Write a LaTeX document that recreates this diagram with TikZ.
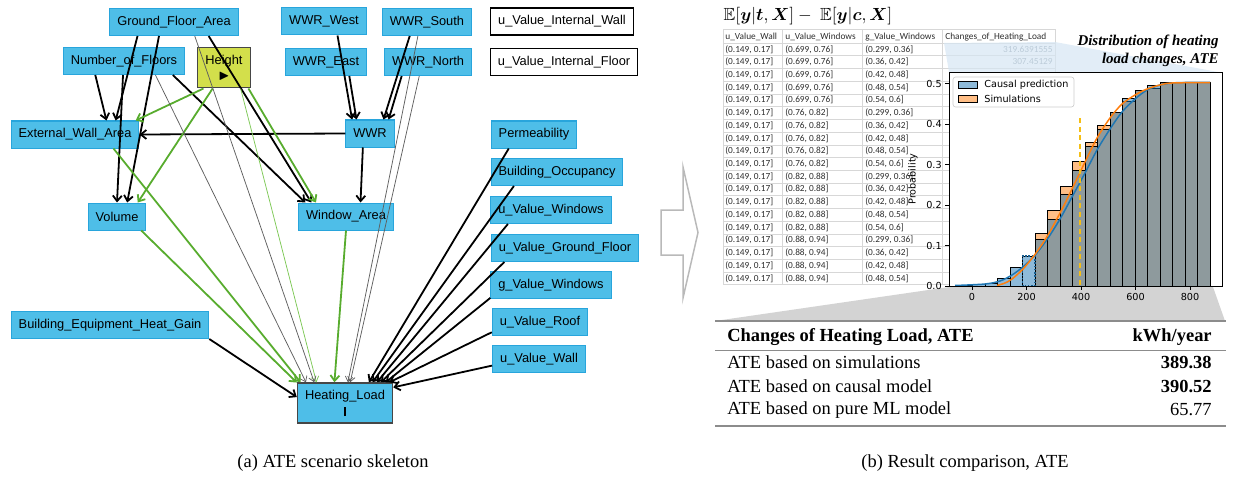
\documentclass[tikz,border=0pt]{standalone}
\usepackage{amsmath,amssymb}
\usepackage{fontspec}
\setmainfont{Liberation Serif}
\newfontfamily\arialfont{Liberation Sans}
\newfontfamily\calibrifont{Carlito}
\newfontfamily\plotfont{DejaVu Sans}
\usetikzlibrary{arrows.meta}

\definecolor{boxblue}{RGB}{78,190,232}
\definecolor{boxline}{RGB}{40,165,220}
\definecolor{treatfill}{RGB}{211,223,75}
\definecolor{darkbox}{RGB}{70,70,70}
\definecolor{edgegreen}{RGB}{88,172,46}
\definecolor{lightedge}{RGB}{125,200,85}
\definecolor{thinedge}{RGB}{95,95,95}
\definecolor{mplblue}{RGB}{31,119,180}
\definecolor{mplorange}{RGB}{255,127,14}
\definecolor{ategold}{RGB}{245,190,20}
\definecolor{wedgeblue}{RGB}{214,230,243}
\definecolor{wedgegray}{RGB}{211,211,211}
\definecolor{gridgray}{RGB}{215,215,215}
\definecolor{tabtext}{RGB}{45,45,45}
\definecolor{fadetext}{RGB}{125,140,155}
\definecolor{rulegray}{RGB}{140,140,140}

\newcommand{\winbin}[1]{\ifcase#1 (0.699, 0.76]\or (0.76, 0.82]\or (0.82, 0.88]\or (0.88, 0.94]\fi}
\newcommand{\gbin}[1]{\ifcase#1 (0.299, 0.36]\or (0.36, 0.42]\or (0.42, 0.48]\or (0.48, 0.54]\or (0.54, 0.6]\fi}

\tikzset{
var/.style={draw=boxline,fill=boxblue,line width=0.2mm,minimum height=5.4mm,inner xsep=1.5mm,inner ysep=0pt,font=\arialfont\fontsize{7.3}{8.5}\selectfont},
treat/.style={var,fill=treatfill,draw=darkbox,minimum height=8mm,align=center},
outcome/.style={var,draw=darkbox,line width=0.3mm,minimum height=8mm,align=center},
idle/.style={var,fill=white,draw=black,line width=0.3mm},
blk/.style={draw=black,line width=0.36mm,-{Straight Barb[length=1.1mm,width=1.8mm]}},
grn/.style={blk,draw=edgegreen},
gry/.style={draw=thinedge,line width=0.15mm,-{Straight Barb[length=1mm,width=1.5mm]}},
lgrn/.style={gry,draw=lightedge},
cell/.style={anchor=west,inner sep=0pt,text=tabtext,font=\calibrifont\fontsize{5.3}{6}\selectfont},
tabgrid/.style={draw=gridgray,line width=0.1mm},
obar/.style={draw=black,line width=0.12mm,fill=mplorange,fill opacity=0.5},
bbar/.style={draw=black,line width=0.12mm,fill=mplblue,fill opacity=0.5},
axlabel/.style={inner sep=0pt,font=\plotfont\fontsize{5.5}{6.5}\selectfont},
restext/.style={inner sep=0pt,font=\fontsize{10.5}{12}\selectfont},
tabrule/.style={draw=rulegray,line width=0.25mm},
capt/.style={font=\fontsize{10.5}{12}\selectfont}
}

\begin{document}
\begin{tikzpicture}[x=0.2mm,y=-0.2mm]
\useasboundingbox (0,0) rectangle (1233,477);

% causal graph
\node[var] (gfa) at (174,22) {Ground\_Floor\_Area};
\node[var] (nof) at (124,61) {Number\_of\_Floors};
\node[treat] (height) at (224,68) {Height\\$\blacktriangleright$};
\node[var] (wwrw) at (324,21.5) {WWR\_West};
\node[var] (wwrs) at (427,22) {WWR\_South};
\node[var] (wwre) at (326,62) {WWR\_East};
\node[var] (wwrn) at (428,62) {WWR\_North};
\node[idle] (uiw) at (562,21.5) {u\_Value\_Internal\_Wall};
\node[idle] (uif) at (564,62) {u\_Value\_Internal\_Floor};
\node[var] (ewa) at (75,134.5) {External\_Wall\_Area};
\node[var] (wwr) at (370,133.5) {WWR};
\node[var] (perm) at (534,134.5) {Permeability};
\node[var] (occ) at (557,172) {Building\_Occupancy};
\node[var] (vol) at (117,216.5) {Volume};
\node[var] (warea) at (346,216.5) {Window\_Area};
\node[var] (uwin) at (551,210) {u\_Value\_Windows};
\node[var] (ugf) at (565,248) {u\_Value\_Ground\_Floor};
\node[var] (gwin) at (551,285) {g\_Value\_Windows};
\node[var] (uroof) at (540,322) {u\_Value\_Roof};
\node[var] (uwall) at (539,359) {u\_Value\_Wall};
\node[var] (behg) at (110,325) {Building\_Equipment\_Heat\_Gain};
\node[outcome] (hl) at (345,403) {Heating\_Load\\[1pt]\rule{1.5pt}{5pt}};

\path
(nof.206) edge[blk] (ewa.24)
(gfa.201) edge[blk] (ewa.19)
(nof.266) edge[blk] (vol.90)
(gfa.223) edge[blk] (vol.54)
(nof.344) edge[blk] (warea.161)
(gfa.338) edge[blk] (warea.158)
(wwr.west) edge[blk] (ewa.east)
(wwr.243) edge[blk] (warea.44)
(wwrw.314) edge[blk] (wwr.142)
(wwre.329) edge[blk] (wwr.134)
(wwrs.219) edge[blk] (wwr.46)
(wwrn.208) edge[blk] (wwr.37)
(height.225) edge[grn] (ewa.13)
(height.241) edge[grn] (vol.34)
(height.320) edge[grn] (warea.155)
(height.309) edge[lgrn] (hl.144)
(gfa.326) edge[gry] (hl.146)
(nof.336) edge[gry] (hl.152)
(ewa.340) edge[grn] (hl.155)
(vol.330) edge[grn] (hl.157)
(warea.270) edge[grn] (hl.117)
(wwrs.237) edge[gry] (hl.82)
(wwrn.238) edge[gry] (hl.76)
(perm.209) edge[blk] (hl.41)
(occ.198) edge[blk] (hl.37)
(uwin.198) edge[blk] (hl.33)
(ugf.193) edge[blk] (hl.30)
(gwin.192) edge[blk] (hl.27)
(uroof.192) edge[blk] (hl.25)
(uwall.188) edge[blk] (hl.18)
(behg.352) edge[blk] (hl.173);

\node[capt] (capa) at (333,463) {(a) ATE scenario skeleton};

% block arrow
\draw[draw=gray!55,line width=0.3mm] (661,210) -- (683,210) -- (683,167) -- (698,232.5) -- (683,298) -- (683,255) -- (661,255) -- cycle;

% data table
\node (ate) at (808,16) {$\mathbb{E}[\boldsymbol{y}|\boldsymbol{t},\boldsymbol{X}]-\ \mathbb{E}[\boldsymbol{y}|\boldsymbol{c},\boldsymbol{X}]$};
\foreach \gx in {723,782.5,862.5,942,1055}
  \draw[tabgrid] (\gx,29.5) -- (\gx,285);
\draw[tabgrid] (723,29.5) -- (1055,29.5);
\foreach \k in {0,...,19}
  \draw[tabgrid] (723,43+12.72*\k) -- (1055,43+12.72*\k);
\node[cell] (h1) at (725,36.7) {u\_Value\_Wall};
\node[cell] (h2) at (785,36.7) {u\_Value\_Windows};
\node[cell] (h3) at (865,36.7) {g\_Value\_Windows};
\node[cell] (h4) at (945,36.7) {Changes\_of\_Heating\_Load};
\foreach \r in {0,...,18} {
  \pgfmathsetmacro{\ry}{49.3+12.72*\r}
  \pgfmathtruncatemacro{\wi}{\r/5}
  \pgfmathtruncatemacro{\gi}{mod(\r,5)}
  \node[cell] (w\r) at (725,\ry) {(0.149, 0.17]};
  \node[cell] (u\r) at (785,\ry) {\winbin{\wi}};
  \node[cell] (g\r) at (865,\ry) {\gbin{\gi}};
}
\node[cell,anchor=east,text=fadetext] (c0) at (1053,49.3) {319.6391555};
\node[cell,anchor=east,text=fadetext] (c1) at (1053,62) {307.45129};
\fill[wedgeblue,fill opacity=0.7] (944,43) -- (1055,42) -- (1218,72) -- (949,72) -- cycle;

% histogram
\fill[white] (949,72) rectangle (1222,286);
\fill[wedgegray] (949,287) -- (1213,287) -- (1225,321) -- (715,321) -- cycle;
\foreach \p [count=\i from 7] in {0.130,0.188,0.247,0.307,0.356,0.398,0.428,0.457,0.482,0.488,0.502,0.503,0.503,0.503}
  \draw[obar] (947.5+12.5*\i,286) rectangle ++(12.5,-405*\p);
\foreach \p [count=\i] in {0.002,0.003,0.007,0.02,0.045,0.074,0.116,0.165,0.227,0.285,0.344,0.387,0.428,0.463,0.482,0.495,0.502,0.503,0.503,0.503}
  \draw[bbar] (947.5+12.5*\i,286) rectangle ++(12.5,-405*\p);
\draw[densely dotted,draw=mplblue!80!black,line width=0.3mm] (1022.5,286) rectangle (1035,256);
\draw[mplblue,line width=0.3mm] plot[smooth] coordinates {(955,285.5) (985,284) (1000,281) (1012,275) (1024,266) (1036,254) (1048,238) (1060,219) (1072,197) (1085,173) (1097,150) (1110,129) (1122,112) (1135,99) (1147,90) (1160,85) (1172,83) (1185,82.5) (1210,82.5)};
\draw[mplorange,line width=0.3mm] plot[smooth] coordinates {(997,285.5) (1005,283) (1012,279) (1023,269) (1036,253) (1048,235) (1060,213) (1072,189) (1085,162) (1097,138) (1110,118) (1122,104) (1135,95) (1147,89) (1160,85) (1172,83) (1210,82.5)};
\draw[ategold,line width=0.3mm,dash pattern=on 1mm off 0.7mm] (1080,118) -- (1080,286);
\draw[line width=0.15mm] (949,72) rectangle (1222,286);
\foreach \v/\t in {972/0,1026.5/200,1081/400,1135.5/600,1190/800} {
  \draw[line width=0.15mm] (\v,286) -- (\v,290);
  \node[axlabel] (xt\t) at (\v,297) {\t};
}
\foreach \yy/\t [count=\i] in {286/0.0,245.5/0.1,205/0.2,164.5/0.3,124/0.4,83.5/0.5} {
  \draw[line width=0.15mm] (945,\yy) -- (949,\yy);
  \node[axlabel,anchor=east] (yt\i) at (942,\yy) {\t};
}
\node[axlabel,rotate=90] (ylab) at (913,179) {Probability};
\draw[rounded corners=1.5pt,fill=white,fill opacity=0.8,draw=gray!40,line width=0.12mm] (953,77) rectangle (1074,107);
\draw[bbar] (958,81) rectangle (977,88);
\draw[obar] (958,95) rectangle (977,102);
\node[axlabel,anchor=west] (lg1) at (984,84.5) {Causal prediction};
\node[axlabel,anchor=west] (lg2) at (984,98.5) {Simulations};
\node[font=\bfseries\itshape\fontsize{8.5}{10.3}\selectfont,align=right,anchor=east,inner sep=0pt] (ttl) at (1219,51) {Distribution of heating\\load changes, ATE};

% result table
\draw[tabrule] (715,321) -- (1226,321);
\node[restext,anchor=west,font=\bfseries\fontsize{10.5}{12}\selectfont] (th1) at (727,337) {Changes of Heating Load, ATE};
\node[restext,anchor=east,font=\bfseries\fontsize{10.5}{12}\selectfont] (th2) at (1212,337) {kWh/year};
\draw[draw=rulegray,line width=0.15mm] (715,350) -- (1226,350);
\node[restext,anchor=west] (r1) at (727,362) {ATE based on simulations};
\node[restext,anchor=east] (v1) at (1212,362) {\textbf{389.38}};
\node[restext,anchor=west] (r2) at (727,386) {ATE based on causal model};
\node[restext,anchor=east] (v2) at (1212,386) {\textbf{390.52}};
\node[restext,anchor=west] (r3) at (727,410) {ATE based on pure ML model};
\node[restext,anchor=east] (v3) at (1212,410) {65.77};
\draw[tabrule] (715,426) -- (1226,426);
\node[capt] (capb) at (965,463) {(b) Result comparison, ATE};
\end{tikzpicture}
\end{document}
